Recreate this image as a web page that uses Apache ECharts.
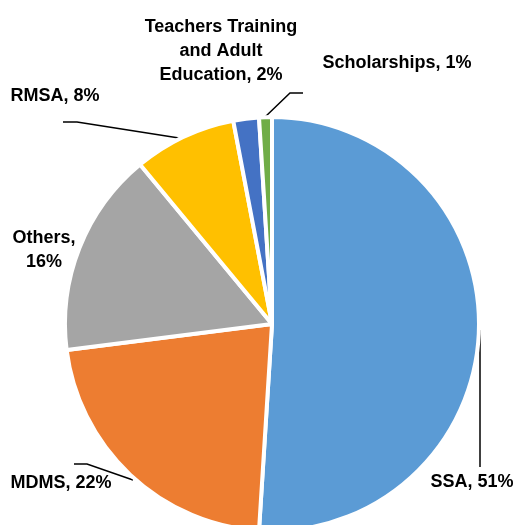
<!DOCTYPE html>
<html>
<head>
<meta charset="utf-8">
<script src="https://cdn.jsdelivr.net/npm/echarts@6/dist/echarts.min.js"></script>
<style>
  html, body { margin: 0; padding: 0; background: #fff; }
  #chart { width: 513px; height: 525px; }
</style>
</head>
<body>
<div id="chart"></div>
<script>
const categories = ['SSA', 'MDMS', 'Others', 'RMSA', 'Teachers Training and Adult Education', 'Scholarships']
const shares = [51, 22, 16, 8, 2, 1]
const labelTexts = ['SSA, {p}%', 'MDMS, {p}%', 'Others,\n{p}%', 'RMSA, {p}%', 'Teachers Training\nand Adult\nEducation, {p}%', 'Scholarships, {p}%']

const colors = ['#5B9BD5', '#ED7D31', '#A5A5A5', '#FFC000', '#4472C4', '#70AD47']

// manual label placement, like the hand-dragged labels in the original
const labelSpots = [
  { x: 472, y: 482, line: [[480, 330], [480, 400], [480, 467]] },
  { x: 61, y: 483, line: [[133, 480], [87, 464], [74, 464]] },
  { x: 44, y: 250, line: null },
  { x: 55, y: 96, line: [[179, 138], [77, 122], [63, 122]] },
  { x: 221, y: 51, line: null },
  { x: 397, y: 63, line: [[265, 117], [290, 93], [303, 93]] }
]

const chart = echarts.init(document.getElementById('chart'))

chart.setOption({
  animation: false,
  color: colors,
  series: [{
    type: 'pie',
    center: [272, 324],
    radius: 207,
    startAngle: 90,
    clockwise: true,
    itemStyle: { borderColor: '#fff', borderWidth: 4 },
    label: {
      show: true,
      position: 'outside',
      overflow: 'none',
      color: '#000',
      fontFamily: '"Liberation Sans", Arial, sans-serif',
      fontWeight: 'bold',
      fontSize: 18,
      lineHeight: 24,
      formatter: (p) => labelTexts[p.dataIndex].replace('{p}', Math.round(p.percent))
    },
    labelLine: {
      show: true,
      lineStyle: { color: '#000', width: 1.5 }
    },
    labelLayout: (params) => {
      const spot = labelSpots[params.dataIndex]
      const out = { x: spot.x, y: spot.y, align: 'center', verticalAlign: 'middle' }
      if (spot.line) out.labelLinePoints = spot.line
      else out.labelLinePoints = [[spot.x, spot.y], [spot.x, spot.y], [spot.x, spot.y]]
      return out
    },
    data: categories.map((name, i) => ({
      name,
      value: shares[i],
      labelLine: { show: !!labelSpots[i].line }
    }))
  }]
})
</script>
</body>
</html>
